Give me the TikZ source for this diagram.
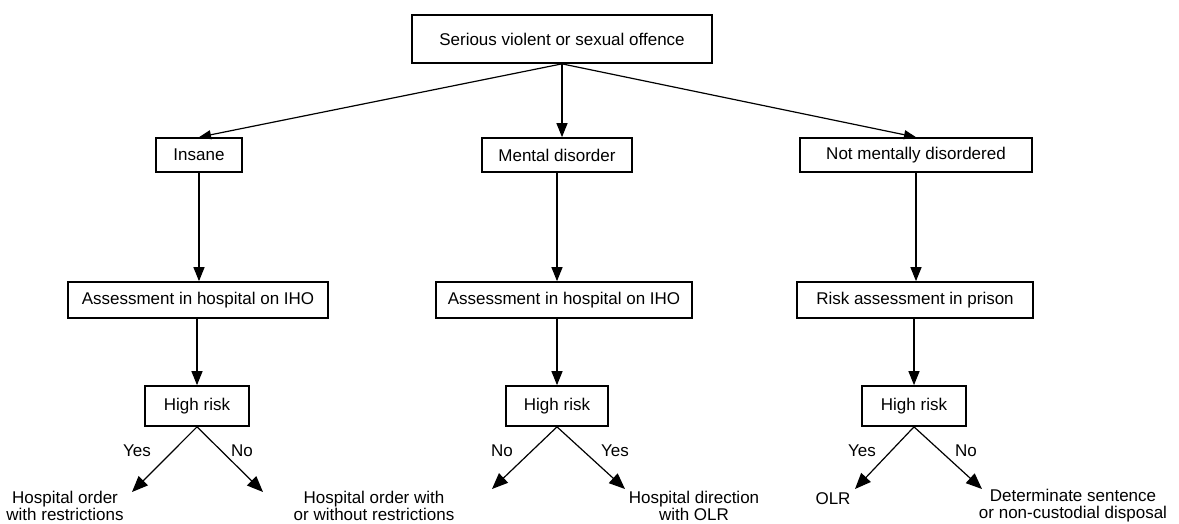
\documentclass[tikz,border=0pt]{standalone}
\usepackage{fontspec}
\setmainfont{Liberation Sans}
\usetikzlibrary{arrows.meta}
\begin{document}
\begin{tikzpicture}[x=1pt,y=-1pt,
  font=\fontsize{17}{17}\selectfont,
  box/.style={draw,line width=1.7pt,inner sep=0pt,align=center},
  conn/.style={line width=1.2pt},
  tipS/.style={conn,-{Triangle[length=12pt,width=9pt]}},
  tipM/.style={conn,-{Triangle[length=14pt,width=11pt]}},
  tipL/.style={conn,-{Triangle[length=16pt,width=13pt]}},
  leaf/.style={inner sep=0pt,align=center},
  lab/.style={inner sep=0pt}]
\useasboundingbox (0,0) rectangle (1179,523);
% boxes
\node[box,minimum width=300pt,minimum height=48pt] (top) at (562,39) {Serious violent or sexual offence};
\node[box,minimum width=86pt,minimum height=34pt] (ins) at (199,155) {Insane};
\node[box,minimum width=150pt,minimum height=34pt] (men) at (557,155) {Mental disorder};
\node[box,minimum width=232pt,minimum height=34pt] (nmd) at (916,155) {Not mentally disordered};
\node[box,minimum width=260pt,minimum height=36pt] (as1) at (198,300) {Assessment in hospital on IHO};
\node[box,minimum width=256pt,minimum height=36pt] (as2) at (564,300) {Assessment in hospital on IHO};
\node[box,minimum width=236pt,minimum height=36pt] (ris) at (915,300) {Risk assessment in prison};
\node[box,minimum width=104pt,minimum height=40pt] (hr1) at (197,406) {High risk};
\node[box,minimum width=102pt,minimum height=40pt] (hr2) at (557,406) {High risk};
\node[box,minimum width=104pt,minimum height=40pt] (hr3) at (914,406) {High risk};
% top arrows
\draw[tipS] (top.south) -- (ins.north);
\draw[tipM] (top.south) -- (top.south |- men.north);
\draw[tipS] (top.south) -- (nmd.north);
% vertical arrows
\draw[tipM] (ins.south) -- (ins.south |- as1.north);
\draw[tipM] (as1.south -| hr1.north) -- (hr1.north);
\draw[tipM] (men.south) -- (men.south |- as2.north);
\draw[tipM] (as2.south -| hr2.north) -- (hr2.north);
\draw[tipM] (nmd.south) -- (nmd.south |- ris.north);
\draw[tipM] (ris.south -| hr3.north) -- (hr3.north);
% bottom end points
\coordinate (e1) at (132,492);
\coordinate (e2) at (263,492);
\coordinate (e3) at (492,489);
\coordinate (e4) at (625,489);
\coordinate (e5) at (855,489);
\coordinate (e6) at (982,489);
\draw[tipL] (hr1.south) -- (e1);
\draw[tipL] (hr1.south) -- (e2);
\draw[tipL] (hr2.south) -- (e3);
\draw[tipL] (hr2.south) -- (e4);
\draw[tipL] (hr3.south) -- (e5);
\draw[tipL] (hr3.south) -- (e6);
% yes/no labels
\node[lab] (l1) at (137,451) {Yes};
\node[lab] (l2) at (242,451) {No};
\node[lab] (l3) at (502,451) {No};
\node[lab] (l4) at (615,451) {Yes};
\node[lab] (l5) at (862,451) {Yes};
\node[lab] (l6) at (966,451) {No};
% leaves
\node[leaf] (o1) at (65,506) {Hospital order\\with restrictions};
\node[leaf] (o2) at (374,506) {Hospital order with\\or without restrictions};
\node[leaf] (o3) at (694,506) {Hospital direction\\with OLR};
\node[leaf,anchor=base] (o4) at (833,504) {OLR};
\node[leaf] (o5) at (1073,506) {Determinate sentence\\or non-custodial disposal};
\end{tikzpicture}
\end{document}
